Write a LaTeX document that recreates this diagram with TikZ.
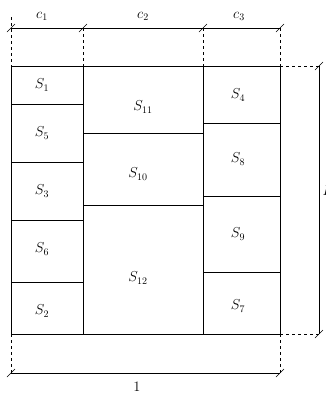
\documentclass[tikz,border=0pt]{standalone}
\usetikzlibrary{calc}
\begin{document}
\begin{tikzpicture}[x=1pt,y=-1pt,
  box/.style={line width=0.6pt},
  dimline/.style={line width=0.6pt},
  guide/.style={line width=0.6pt,dash pattern=on 3pt off 3pt},
  tick/.style={line width=0.6pt},
  lbl/.style={inner sep=0pt,font=\fontsize{14}{17}\selectfont}]
\useasboundingbox (0,0) rectangle (325,394);
% coordinates
\coordinate (TL) at (11,66); \coordinate (TR) at (280,66);
\coordinate (BL) at (11,334); \coordinate (BR) at (280,334);
% outer box and columns
\draw[box] (TL) rectangle (BR);
\draw[box] (83,66) -- (83,334);
\draw[box] (203,66) -- (203,334);
% column 1 rows
\draw[box] (11,104) -- (83,104);
\draw[box] (11,162) -- (83,162);
\draw[box] (11,220) -- (83,220);
\draw[box] (11,282) -- (83,282);
% column 2 rows
\draw[box] (83,133) -- (203,133);
\draw[box] (83,205) -- (203,205);
% column 3 rows
\draw[box] (203,123) -- (280,123);
\draw[box] (203,196) -- (280,196);
\draw[box] (203,272) -- (280,272);
% labels
\node[lbl] (s1) at (42,85) {$S_1$};
\node[lbl] (s5) at (42,133) {$S_5$};
\node[lbl] (s3) at (42,191) {$S_3$};
\node[lbl] (s6) at (42,249) {$S_6$};
\node[lbl] (s2) at (42,311) {$S_2$};
\node[lbl] (s11) at (143,107) {$S_{11}$};
\node[lbl] (s10) at (138,174) {$S_{10}$};
\node[lbl] (s12) at (138,278) {$S_{12}$};
\node[lbl] (s4) at (238,95) {$S_4$};
\node[lbl] (s8) at (238,159) {$S_8$};
\node[lbl] (s9) at (238,234) {$S_9$};
\node[lbl] (s7) at (238,306) {$S_7$};
% top dimension
\coordinate (d0) at (11,28); \coordinate (d1) at (83,28);
\coordinate (d2) at (203,28); \coordinate (d3) at (280,28);
\draw[guide] (11,17) -- (TL);
\draw[guide] (d1) -- (83,66);
\draw[guide] (d2) -- (203,66);
\draw[guide] (d3) -- (TR);
\draw[dimline] (d0) -- (d3);
\foreach \p in {d0,d1,d2,d3} \draw[tick] ($(\p)+(-4,4)$) -- ($(\p)+(4,-4)$);
\node[lbl] (c1) at (42,16) {$c_1$};
\node[lbl] (c2) at (143,16) {$c_2$};
\node[lbl] (c3) at (239,16) {$c_3$};
% bottom dimension
\coordinate (b0) at (11,373); \coordinate (b1) at (280,373);
\draw[guide] (BL) -- (b0);
\draw[guide] (BR) -- (b1);
\draw[dimline] (b0) -- (b1);
\foreach \p in {b0,b1} \draw[tick] ($(\p)+(-4,4)$) -- ($(\p)+(4,-4)$);
\node[lbl] (one) at (137,387) {$1$};
% right dimension
\coordinate (r0) at (319,66); \coordinate (r1) at (319,334);
\draw[guide] (TR) -- (r0);
\draw[guide] (BR) -- (r1);
\draw[dimline] (r0) -- (r1);
\foreach \p in {r0,r1} \draw[tick] ($(\p)+(-4,4)$) -- ($(\p)+(4,-4)$);
\node[lbl,anchor=west] (h) at (322.5,191) {$H$};
\end{tikzpicture}
\end{document}
